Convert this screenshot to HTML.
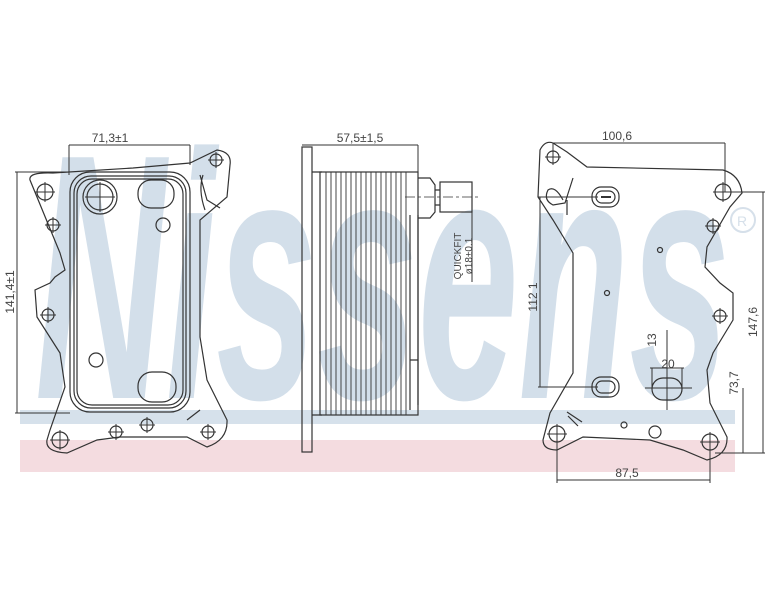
<!DOCTYPE html>
<html><head><meta charset="utf-8"><style>
html,body{margin:0;padding:0;background:#fff}
svg{display:block}
text{font-family:"Liberation Sans",sans-serif;fill:#444}
</style></head><body>
<svg width="765" height="612" viewBox="0 0 765 612" xmlns="http://www.w3.org/2000/svg">
<defs>
<g id="h"><circle r="8" fill="none" stroke="#333" stroke-width="1.2"/><path d="M-10 0H10M0 -10V10" stroke="#333" stroke-width="1"/></g>
<g id="hs"><circle r="6" fill="none" stroke="#333" stroke-width="1.2"/><path d="M-8 0H8M0 -8V8" stroke="#333" stroke-width="1"/></g>
</defs>
<!-- watermark -->
<rect x="20" y="410" width="715" height="14" fill="#d6e1eb"/>
<rect x="20" y="440" width="715" height="32" fill="#f4dce0"/>
<text x="35" y="398" font-size="350" font-style="italic" font-weight="bold" textLength="695" lengthAdjust="spacingAndGlyphs" style="fill:#d3dfea">Nissens</text>
<circle cx="743" cy="220" r="12" fill="none" stroke="#d6e0ea" stroke-width="2"/>
<text x="737" y="226" font-size="14" style="fill:#d6e0ea">R</text>

<g fill="none" stroke="#333" stroke-width="1.2">
<!-- LEFT VIEW -->
<path d="M30 180 Q28 172 53 173 L133 168 L190 163 L217 150 Q232 152 230 165 L227 197 L200 220 L200 337 L207 380 L227 420 Q228 440 207 447 L187 437 L120 437 L97 440 L67 453 Q45 452 47 440 L50 430 L65 387 L60 353 L37 317 L35 290 L50 283 L55 277 L65 270 L60 253 Z"/>
<rect x="70" y="172" width="120" height="240" rx="20"/>
<rect x="74" y="176" width="112" height="232" rx="17"/>
<rect x="77" y="179" width="106" height="226" rx="15"/>
<circle cx="100" cy="197" r="17"/><circle cx="100" cy="197" r="13"/>
<path d="M85 197H115M100 182V212" stroke-width="1"/>
<rect x="138" y="180" width="36" height="28" rx="13"/>
<rect x="138" y="372" width="38" height="30" rx="14"/>
<circle cx="163" cy="225" r="7"/><circle cx="96" cy="360" r="7"/>
<path d="M200 175 L207 200 L220 208 M203 175 Q198 190 205 210"/>
<path d="M187 420 L200 410"/>
</g>
<use href="#h" x="45" y="192"/><use href="#hs" x="53" y="225"/><use href="#hs" x="48" y="315"/>
<use href="#hs" x="216" y="160"/><use href="#h" x="60" y="440"/><use href="#hs" x="116" y="432"/>
<use href="#hs" x="208" y="432"/><use href="#hs" x="147" y="425"/>
<g stroke="#333" stroke-width="1" fill="none">
<path d="M69 145H190M69 145V175M190 145V165"/>
<path d="M17 172V413M15 172H70M15 413H70"/>
</g>
<text x="110" y="142" font-size="12" text-anchor="middle">71,3±1</text>
<text transform="translate(14,292) rotate(-90)" font-size="12" text-anchor="middle">141,4±1</text>

<!-- MIDDLE VIEW -->
<g fill="none" stroke="#333" stroke-width="1.2">
<rect x="302" y="147" width="10" height="305"/>
<path d="M312 172H322M312 415H322"/>
<rect x="320" y="172" width="98" height="243"/>
<path d="M326 172V415M331 172V415M336 172V415M341 172V415M346 172V415M351 172V415M356 172V415M361 172V415M366 172V415M371 172V415M376 172V415M381 172V415M386 172V415M391 172V415M396 172V415M401 172V415M406 172V415" stroke-width="0.9"/>
<path d="M418 178 L430 178 L435 185 L435 212 L430 218 L418 218"/>
<rect x="440" y="182" width="32" height="30"/>
<path d="M435 190H440M435 205H440"/>
<path d="M410 215V410M418 215V405M410 360H418"/>
</g>
<path d="M405 197H478" stroke="#333" stroke-width="0.8" stroke-dasharray="10,3,3,3"/>
<path d="M302 145H418M418 145V172M472 195V282" stroke="#333" stroke-width="1"/>
<text x="360" y="142" font-size="12" text-anchor="middle">57,5±1,5</text>
<text transform="translate(461,256) rotate(-90)" font-size="10" text-anchor="middle">QUICKFIT</text>
<text transform="translate(472,256) rotate(-90)" font-size="10" text-anchor="middle">ø18±0.1</text>

<!-- RIGHT VIEW -->
<g fill="none" stroke="#333" stroke-width="1.2">
<path d="M540 150 Q545 140 553 143 L567 152 L587 167 L723 170 Q740 175 742 193 L730 207 L707 247 L705 267 L720 283 L733 293 L733 320 L713 353 L707 370 L710 403 L727 437 Q728 455 707 460 L683 450 L650 440 L583 437 L557 450 Q543 450 543 440 L550 413 L573 373 L573 253 L553 220 L538 197 Z"/>
<rect x="592" y="187" width="27" height="20" rx="9"/><rect x="596" y="191" width="19" height="12" rx="6"/>
<path d="M601 197H611" stroke-width="2"/>
<rect x="592" y="377" width="27" height="20" rx="9"/><rect x="596" y="381" width="19" height="12" rx="6"/>
<rect x="652" y="378" width="30" height="22" rx="11"/>
<circle cx="660" cy="250" r="2.5"/><circle cx="607" cy="293" r="2.5"/><circle cx="624" cy="425" r="3"/><circle cx="655" cy="432" r="6"/>
<path d="M563 200 Q555 185 548 190 Q543 200 553 205 L565 203 L573 178 M567 200 V215"/>
<path d="M567 412 L582 422 M568 416 L578 426"/>
</g>
<use href="#hs" x="553" y="157"/><use href="#h" x="723" y="192"/><use href="#hs" x="713" y="226"/>
<use href="#hs" x="720" y="316"/><use href="#h" x="557" y="434"/><use href="#h" x="710" y="442"/>
<g stroke="#333" stroke-width="1" fill="none">
<path d="M553 143H725M553 143V160M725 143V192"/>
<path d="M540 197V387M538 197H598M538 387H598"/>
<path d="M763 192V453M730 192H765M715 453H765"/>
<path d="M743 388V453"/>
<path d="M557 480H710M557 440V483M710 445V483"/>
<path d="M667 330V410M645 388H692M652 368V388M682 368V388M650 368H684"/>
</g>
<text x="617" y="140" font-size="12" text-anchor="middle">100,6</text>
<text x="627" y="477" font-size="12" text-anchor="middle">87,5</text>
<text transform="translate(537,297) rotate(-90)" font-size="12" text-anchor="middle">112 1</text>
<text transform="translate(757,322) rotate(-90)" font-size="12" text-anchor="middle">147,6</text>
<text transform="translate(738,383) rotate(-90)" font-size="12" text-anchor="middle">73,7</text>
<text transform="translate(656,340) rotate(-90)" font-size="12" text-anchor="middle">13</text>
<text x="668" y="368" font-size="12" text-anchor="middle">20</text>
</svg>
</body></html>
